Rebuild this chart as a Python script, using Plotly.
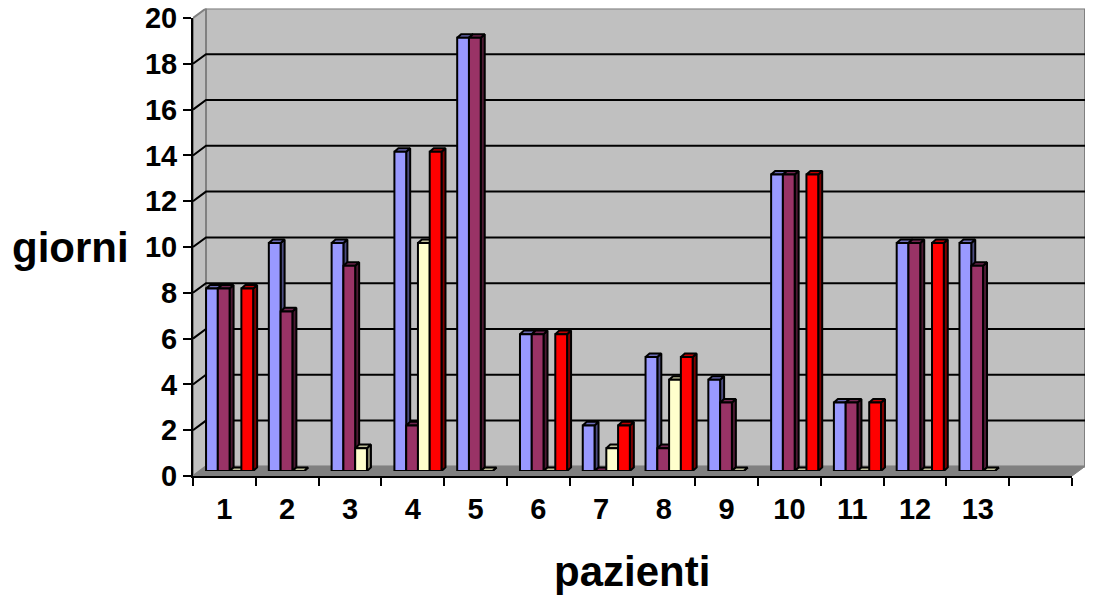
import plotly.graph_objects as go

categories = list(range(1, 14))
tick_labels = [str(c) for c in categories]
series_a = [8, 10, 10, 14, 19, 6, 2, 5, 4, 13, 3, 10, 10]
series_b = [8, 7, 9, 2, 19, 6, 0, 1, 3, 13, 3, 10, 9]
series_c = [0, 0, 1, 10, 0, 0, 1, 4, 0, 0, 0, 0, 0]
series_d = [8, None, None, 14, None, 6, 2, 5, None, 13, 3, 10, None]
y_ticks = list(range(0, 21, 2))

W, H = 1093, 596
FRONT_L, FRONT_R, FRONT_B, FRONT_T = 193, 1072, 476, 18
X_MIN, X_MAX, Y_MAX = 0.5, 14.5, 20
PX = (FRONT_R - FRONT_L) / (X_MAX - X_MIN)
PY = (FRONT_B - FRONT_T) / Y_MAX
WALL_DX, WALL_DY = 13 / PX, 9.6 / PY
BAR_SX, BAR_B, BAR_T = 5.2, 471, 15
DEPTH_X, DEPTH_Y = 4 / PX, 3.6 / PY
BAR_GAP = 0.25

STYLES = [
    ("#9999FF", "#6D6DB8", "#4C4C80"),
    ("#993366", "#732650", "#4D1A33"),
    ("#FFFFCC", "#C0C09A", "#808066"),
    ("#FF0000", "#C00000", "#800000"),
]
SERIES = [series_a, series_b, series_c, series_d]
NAMES = ["Serie 1", "Serie 2", "Serie 3", "Serie 4"]


def dx(a, b):
    return [a / W, b / W]


def dy(bottom, top):
    return [1 - bottom / H, 1 - top / H]


fig = go.Figure()
poly = dict(mode="lines", hoverinfo="skip", showlegend=False, fill="toself")

# walls and floor, on the hidden base axes
wl, wr = X_MIN + WALL_DX, X_MAX + WALL_DX
wt = Y_MAX + WALL_DY
fig.add_trace(go.Scatter(x=[wl, wr, wr, wl, wl], y=[WALL_DY, WALL_DY, wt, wt, WALL_DY],
                         fillcolor="#C0C0C0", line=dict(color="#808080", width=2), **poly))
fig.add_trace(go.Scatter(x=[X_MIN, wl, wl, X_MIN, X_MIN], y=[0, WALL_DY, wt, Y_MAX, 0],
                         fillcolor="#C0C0C0", line=dict(color="#808080", width=2), **poly))
fig.add_trace(go.Scatter(x=[X_MIN, wl, wr, X_MAX, X_MIN], y=[0, WALL_DY, WALL_DY, 0, 0],
                         fillcolor="#808080", line=dict(color="#808080", width=1), **poly))
gx, gy = [], []
for v in y_ticks[1:-1]:
    gx += [X_MIN, wl, wr, None]
    gy += [v, v + WALL_DY, v + WALL_DY, None]
fig.add_trace(go.Scatter(x=gx, y=gy, mode="lines", line=dict(color="black", width=2),
                         hoverinfo="skip", showlegend=False))

# visible front axes
fig.add_trace(go.Scatter(x=[None], y=[None], xaxis="x2", yaxis="y2", showlegend=False))

# side and top faces of the bars
w = (1 - BAR_GAP) / 4
for i, (vals, st) in enumerate(zip(SERIES, STYLES)):
    sx, sy, tx, ty = [], [], [], []
    for c, v in zip(categories, vals):
        if v is None:
            continue
        l = c - (1 - BAR_GAP) / 2 + i * w
        r = l + w
        sx += [r, r + DEPTH_X, r + DEPTH_X, r, r, None]
        sy += [0, DEPTH_Y, v + DEPTH_Y, v, 0, None]
        tx += [l, r, r + DEPTH_X, l + DEPTH_X, l, None]
        ty += [v, v, v + DEPTH_Y, v + DEPTH_Y, v, None]
    fig.add_trace(go.Scatter(x=sx, y=sy, xaxis="x3", yaxis="y3", fillcolor=st[2],
                             line=dict(color="black", width=2), **poly))
    fig.add_trace(go.Scatter(x=tx, y=ty, xaxis="x3", yaxis="y3", fillcolor=st[1],
                             line=dict(color="black", width=2), **poly))

# front faces
for vals, st, name in zip(SERIES, STYLES, NAMES):
    fig.add_trace(go.Bar(x=categories, y=vals, name=name, xaxis="x4", yaxis="y4",
                         marker=dict(color=st[0], line=dict(color="black", width=2)),
                         showlegend=False))

font = dict(family="Liberation Sans", color="black")
tick_font = dict(size=29, weight="bold", **font)
hidden = dict(visible=False, fixedrange=True, automargin=False)
bars_dx = dx(FRONT_L + BAR_SX, FRONT_R + BAR_SX)
bars_dy = dy(BAR_B, BAR_T)
base_r = FRONT_R + 13
base_t = FRONT_T - 9.6

fig.update_layout(
    width=W, height=H, autosize=False,
    margin=dict(l=0, r=0, t=0, b=0),
    paper_bgcolor="white", plot_bgcolor="rgba(0,0,0,0)",
    barmode="group", bargap=BAR_GAP, bargroupgap=0,
    showlegend=False,
    xaxis=dict(domain=dx(FRONT_L, base_r), range=[X_MIN, X_MAX + WALL_DX], anchor="y", **hidden),
    yaxis=dict(domain=dy(FRONT_B, base_t), range=[0, wt], anchor="x", **hidden),
    xaxis2=dict(
        domain=dx(FRONT_L, FRONT_R), range=[X_MIN, X_MAX], anchor="y2", automargin=False,
        tickmode="array", tickvals=categories, ticktext=tick_labels,
        ticks="outside", ticklen=6, tickcolor="rgba(0,0,0,0)",
        tickfont=tick_font, showgrid=False, zeroline=False,
        showline=True, linecolor="black", linewidth=2, fixedrange=True,
        minor=dict(tickmode="array", tickvals=[c - 0.5 for c in categories] + [13.5, 14.5],
                   ticks="outside", ticklen=8, tickcolor="black", tickwidth=2, showgrid=False),
    ),
    yaxis2=dict(
        domain=dy(FRONT_B, FRONT_T), range=[0, Y_MAX], anchor="x2", automargin=False,
        tickmode="array", tickvals=y_ticks, ticks="outside", ticklen=8,
        tickcolor="black", tickwidth=2, tickfont=tick_font,
        showgrid=False, zeroline=False, showline=True, linecolor="black", linewidth=2,
        fixedrange=True,
    ),
    xaxis3=dict(domain=bars_dx, range=[X_MIN, X_MAX], anchor="y3", **hidden),
    yaxis3=dict(domain=bars_dy, range=[0, Y_MAX], anchor="x3", **hidden),
    xaxis4=dict(domain=bars_dx, range=[X_MIN, X_MAX], anchor="y4", **hidden),
    yaxis4=dict(domain=bars_dy, range=[0, Y_MAX], anchor="x4", **hidden),
    annotations=[
        dict(text="<b>giorni</b>", x=70 / W, y=1 - 247 / H, xref="paper", yref="paper",
             xanchor="center", yanchor="middle", showarrow=False, font=dict(size=42, **font)),
        dict(text="<b>pazienti</b>", x=632 / W, y=1 - 571 / H, xref="paper", yref="paper",
             xanchor="center", yanchor="middle", showarrow=False, font=dict(size=42, **font)),
    ],
)

fig.write_html("out.html", config=dict(displayModeBar=False),
               post_script="document.body.style.margin='0';")
